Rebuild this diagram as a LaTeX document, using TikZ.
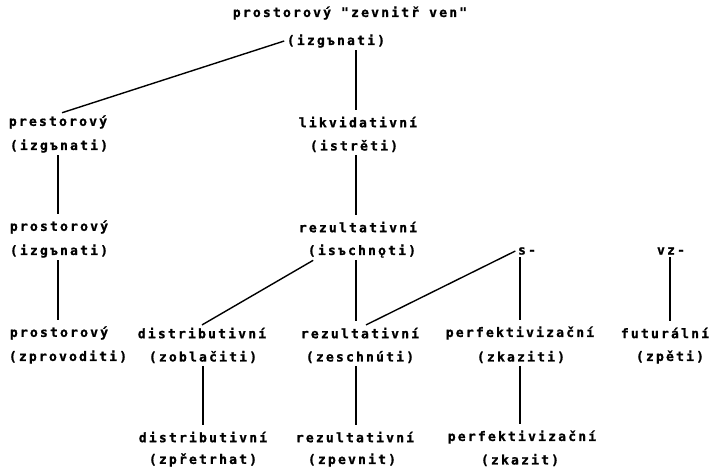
\documentclass[tikz,border=0pt]{standalone}
\usepackage{fontspec}
\newfontfamily\typefont[LetterSpace=17, FakeBold=1.2]{DejaVu Sans Mono Bold}

\begin{document}
\begin{tikzpicture}[
    x=1pt, y=-1pt,
    word style/.style={font=\typefont\fontsize{13}{15}\selectfont, inner sep=2.5pt},
    edge style/.style={line width=1.4pt, black}
]
\useasboundingbox (0,0) rectangle (713,468);

% Columns of the vertical connectors
\coordinate (colA) at (58,0);
\coordinate (colB) at (356,0);
\coordinate (colC) at (203,0);
\coordinate (colD) at (520,0);
\coordinate (colE) at (670,0);

% Place the labels
\foreach \n/\x/\y/\t in {
    top/350/13/{prostorový "zevnitř ven"}, topv/336/41/{(izgъnati)},
    a2/58/122/{prestorový}, a2v/59/146/{(izgъnati)},
    b2/358/122/{likvidativní}, b2v/354/146/{(istrěti)},
    a3/59/227/{prostorový}, a3v/59/251/{(izgъnati)},
    b3/358/227/{rezultativní}, b3v/362/251/{(isъchnǫti)},
    s3/527/251/{s-}, vz3/671/251/{vz-},
    a4/59/333/{prostorový}, a4v/68/357/{(zprovoditi)},
    c4/202/333/{distributivní}, c4v/203/357/{(zoblačiti)},
    b4/360/333/{rezultativní}, b4v/360/357/{(zeschnúti)},
    d4/520/333/{perfektivizační}, d4v/521/357/{(zkaziti)},
    e4/665/333/{futurální}, e4v/670/357/{(zpěti)},
    c5/203/437/{distributivní}, c5v/203/460/{(zpřetrhat)},
    b5/355/437/{rezultativní}, b5v/352/460/{(zpevnit)},
    d5/522/437/{perfektivizační}, d5v/520/460/{(zkazit)}} {
    \node[word style] (\n) at (\x,\y) {\t};
}

% Draw the vertical connectors
\foreach \a/\b/\c in {topv/b2/colB, a2v/a3/colA, a3v/a4/colA, b2v/b3/colB,
    b3v/b4/colB, b4v/b5/colB, c4v/c5/colC, s3/d4/colD, d4v/d5/colD, vz3/e4/colE} {
    \draw[edge style, shorten >=4pt] (\a.south -| \c) -- (\b.north -| \c);
}

% Draw the slanted connectors
\draw[edge style] (topv.west) -- ([xshift=4pt]a2.north);
\draw[edge style] ([xshift=8pt]b3v.south west) -- (c4.north);
\draw[edge style] (s3.west) -- ([xshift=6pt]b4.north);
\end{tikzpicture}
\end{document}
